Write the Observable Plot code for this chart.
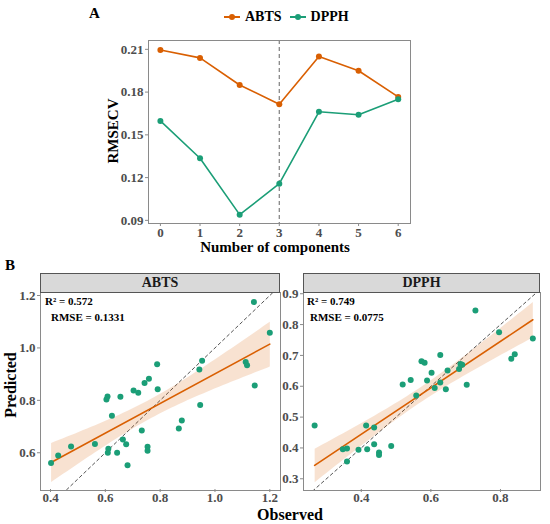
<!DOCTYPE html>
<html>
<head>
<meta charset="utf-8">
<script src="https://cdn.jsdelivr.net/npm/d3@7"></script>
<script src="https://cdn.jsdelivr.net/npm/@observablehq/plot@0.6"></script>
<style>
  html, body { margin: 0; padding: 0; background: #fff; }
  #wrap { position: relative; width: 550px; height: 524px; font-family: "Liberation Serif", "Times New Roman", serif; font-weight: bold; }
  .abs { position: absolute; white-space: nowrap; line-height: 1; }
  .strip { position: absolute; background: #d9d9d9; border: 1px solid #555; box-sizing: border-box; text-align: center; font-size: 14px; line-height: 18px; color: #1a1a1a; }
  svg { overflow: visible; }
</style>
</head>
<body>
<div id="wrap"></div>
<script>
// ---------- Data ----------
const components = [0, 1, 2, 3, 4, 5, 6];
const abtsRmsecv = [0.2095, 0.204, 0.185, 0.1715, 0.205, 0.195, 0.1766];
const dpphRmsecv = [0.1598, 0.1336, 0.094, 0.1157, 0.1662, 0.1641, 0.175];
const rmsecvTicks = [0.09, 0.12, 0.15, 0.18, 0.21];
const optimalComponents = [3];

const abtsObserved = [0.402, 0.428, 0.475, 0.562, 0.604, 0.608, 0.609, 0.611, 0.624, 0.643, 0.655, 0.664, 0.676, 0.681, 0.703, 0.720, 0.733, 0.743, 0.754, 0.754, 0.759, 0.789, 0.791, 0.868, 0.879, 0.943, 0.946, 0.953, 1.112, 1.117, 1.142, 1.145, 1.200];
const abtsPredicted = [0.561, 0.590, 0.624, 0.633, 0.803, 0.815, 0.600, 0.615, 0.741, 0.600, 0.814, 0.651, 0.632, 0.552, 0.838, 0.829, 0.685, 0.866, 0.623, 0.608, 0.882, 0.938, 0.842, 0.693, 0.723, 0.918, 0.782, 0.951, 0.946, 0.934, 1.175, 0.857, 1.058];
const dpphObserved = [0.266, 0.347, 0.359, 0.359, 0.392, 0.414, 0.417, 0.437, 0.437, 0.451, 0.451, 0.486, 0.519, 0.542, 0.558, 0.573, 0.582, 0.589, 0.602, 0.611, 0.627, 0.627, 0.643, 0.648, 0.681, 0.685, 0.690, 0.703, 0.728, 0.796, 0.831, 0.841, 0.893];
const dpphPredicted = [0.473, 0.396, 0.398, 0.356, 0.394, 0.473, 0.396, 0.466, 0.412, 0.385, 0.377, 0.406, 0.606, 0.620, 0.570, 0.681, 0.676, 0.619, 0.644, 0.594, 0.701, 0.612, 0.590, 0.651, 0.656, 0.672, 0.670, 0.605, 0.846, 0.775, 0.689, 0.704, 0.755];
const abtsTicksX = [0.4, 0.6, 0.8, 1.0, 1.2];
const abtsTicksY = [0.6, 0.8, 1.0, 1.2];
const dpphTicksX = [0.4, 0.6, 0.8];
const dpphTicksY = [0.3, 0.4, 0.5, 0.6, 0.7, 0.8, 0.9];
const abtsStats = ["R² = 0.572", "RMSE = 0.1331"];
const dpphStats = ["R² = 0.749", "RMSE = 0.0775"];

const ORANGE = "#D95F02";
const GREEN = "#1B9E77";
const TICKCOL = "#4d4d4d";
const FONT = '"Liberation Serif", "Times New Roman", serif';

const wrap = document.getElementById("wrap");
function place(el, left, top) {
  el.style.position = "absolute";
  el.style.left = left + "px";
  el.style.top = top + "px";
  wrap.appendChild(el);
  return el;
}
function label(text, left, top, size, extra = "") {
  const d = document.createElement("div");
  d.className = "abs";
  d.textContent = text;
  d.style.cssText += `left:${left}px;top:${top}px;font-size:${size}px;${extra}`;
  wrap.appendChild(d);
  return d;
}

// ---------- Panel A ----------
const seriesA = [
  ...components.map((c, i) => ({c, v: abtsRmsecv[i], s: "ABTS"})),
  ...components.map((c, i) => ({c, v: dpphRmsecv[i], s: "DPPH"}))
];
const plotA = Plot.plot({
  width: 550, height: 255,
  marginLeft: 148, marginRight: 140, marginTop: 40, marginBottom: 32,
  style: {fontFamily: FONT, fontWeight: "bold", fontSize: "13px", overflow: "visible"},
  x: {domain: [-0.3, 6.31]},
  y: {domain: [0.0878, 0.2162]},
  color: {domain: ["ABTS", "DPPH"], range: [ORANGE, GREEN]},
  marks: [
    Plot.ruleX(optimalComponents, {stroke: "#888", strokeDasharray: "4,3", strokeWidth: 1.3}),
    Plot.line(seriesA, {x: "c", y: "v", z: "s", stroke: "s", strokeWidth: 1.6}),
    Plot.dot(seriesA, {x: "c", y: "v", fill: "s", r: 3}),
    Plot.frame({stroke: "#8a8a8a", strokeWidth: 1}),
    Plot.axisX({ticks: components, tickSize: 3, tickPadding: 1, stroke: "#8a8a8a", fill: TICKCOL, label: null, tickFormat: d3.format("d")}),
    Plot.axisY({ticks: rmsecvTicks, tickSize: 3, tickPadding: 2, stroke: "#8a8a8a", fill: TICKCOL, label: null, tickFormat: d3.format(".2f")})
  ]
});
place(plotA, 0, 0);

label("A", 89, 6, 15);
label("RMSECV", 0, 0, 15, "transform:rotate(-90deg);transform-origin:center;width:70px;text-align:center;height:16px;line-height:16px;left:78px;top:123px;");
label("Number of components", 140, 240, 15, "width:270px;text-align:center;");

// Legend
const leg = document.createElement("div");
leg.style.cssText = "position:absolute;left:222px;top:10px;font-size:14px;line-height:14px;display:flex;align-items:center;";
leg.innerHTML = `
<svg width="20" height="12"><line x1="2" y1="6" x2="18" y2="6" stroke="${ORANGE}" stroke-width="2"/><circle cx="10" cy="6" r="3" fill="${ORANGE}"/></svg>
<span style="margin:0 6px 0 3px">ABTS</span>
<svg width="20" height="12"><line x1="2" y1="6" x2="18" y2="6" stroke="${GREEN}" stroke-width="2"/><circle cx="10" cy="6" r="3" fill="${GREEN}"/></svg>
<span style="margin-left:3px">DPPH</span>`;
wrap.appendChild(leg);

// ---------- Panel B ----------
function facet(obs, pred, xDomain, yDomain, xTicks, yTicks, opts) {
  const pts = obs.map((o, i) => ({o, p: pred[i]}));
  return Plot.plot({
    width: opts.width, height: 269,
    marginLeft: opts.marginLeft, marginRight: opts.marginRight, marginTop: 37, marginBottom: 34,
    style: {fontFamily: FONT, fontWeight: "bold", fontSize: "13px", overflow: "visible"},
    x: {domain: xDomain},
    y: {domain: yDomain},
    marks: [
      Plot.line(xDomain, {x: d => d, y: d => d, stroke: "#555", strokeDasharray: "3,3", strokeWidth: 1, clip: true}),
      Plot.linearRegressionY(pts, {x: "o", y: "p", stroke: ORANGE, fill: ORANGE, fillOpacity: 0.18, strokeWidth: 1.6, ci: 0.95}),
      Plot.dot(pts, {x: "o", y: "p", fill: GREEN, r: 3}),
      Plot.frame({stroke: "#8a8a8a", strokeWidth: 1}),
      Plot.axisX({ticks: xTicks, tickSize: 3, tickPadding: 0, dy: -1, stroke: "#8a8a8a", fill: TICKCOL, label: null, tickFormat: d3.format(".1f")}),
      Plot.axisY({ticks: yTicks, tickSize: 3, tickPadding: 2, stroke: "#8a8a8a", fill: TICKCOL, label: null, tickFormat: d3.format(".1f")})
    ]
  });
}

const left = facet(abtsObserved, abtsPredicted, [0.3635, 1.239], [0.456, 1.2115], abtsTicksX, abtsTicksY,
  {width: 282, marginLeft: 40, marginRight: 2});
place(left, 0, 255);
const right = facet(dpphObserved, dpphPredicted, [0.234, 0.915], [0.262, 0.904], dpphTicksX, dpphTicksY,
  {width: 275, marginLeft: 28, marginRight: 10});
place(right, 275, 255);

// strips
const s1 = document.createElement("div"); s1.className = "strip"; s1.textContent = "ABTS";
s1.style.cssText += "left:40px;top:273px;width:240px;height:20px;";
wrap.appendChild(s1);
const s2 = document.createElement("div"); s2.className = "strip"; s2.textContent = "DPPH";
s2.style.cssText += "left:303px;top:273px;width:237px;height:20px;";
wrap.appendChild(s2);

// stats text
label(abtsStats[0], 45, 296, 11);
label(abtsStats[1], 51, 312, 11);
label(dpphStats[0], 307, 296, 11);
label(dpphStats[1], 310, 312, 11);

label("B", 5, 258, 15);
label("Predicted", 0, 0, 16, "transform:rotate(-90deg);transform-origin:center;width:90px;text-align:center;height:18px;line-height:18px;left:-34px;top:376px;");
label("Observed", 240, 507, 16, "width:100px;text-align:center;");
</script>
</body>
</html>
